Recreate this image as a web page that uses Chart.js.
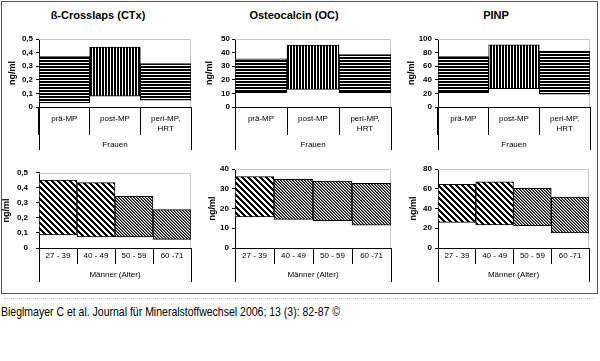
<!DOCTYPE html>
<html>
<head>
<meta charset="utf-8">
<script src="https://cdn.jsdelivr.net/npm/chart.js@4.4.1/dist/chart.umd.min.js"></script>
<style>
  html, body { margin: 0; padding: 0; background: #fff; }
  #fig { position: relative; width: 600px; height: 361px; overflow: hidden; font-family: "Liberation Sans", Arial, sans-serif; }
  #frame { position: absolute; left: 1px; top: 1px; width: 595px; height: 291px; border: 1px solid #555; }
  #ghost { position: absolute; left: 4px; top: 298px; width: 590px; border-top: 1px dotted #bbb; }
  canvas { position: absolute; }
  .ttl { position: absolute; top: 9px; line-height: 13px; font-weight: bold; font-size: 11px; transform: translateX(-50%); white-space: nowrap; }
  #cite { position: absolute; left: 1px; top: 304px; font-size: 13px; line-height: 16px; white-space: nowrap; transform-origin: 0 0; }
</style>
</head>
<body>
<div id="fig">
  <div id="frame"></div>
  <div class="ttl" style="left:98px">ß-Crosslaps (CTx)</div>
  <div class="ttl" style="left:294px">Osteocalcin (OC)</div>
  <div class="ttl" style="left:496px">PINP</div>
  <canvas id="c1" width="200" height="160" style="left:0;top:0"></canvas>
  <canvas id="c2" width="200" height="160" style="left:200px;top:0"></canvas>
  <canvas id="c3" width="200" height="160" style="left:400px;top:0"></canvas>
  <canvas id="c4" width="200" height="130" style="left:0;top:160px"></canvas>
  <canvas id="c5" width="200" height="130" style="left:200px;top:160px"></canvas>
  <canvas id="c6" width="200" height="130" style="left:400px;top:160px"></canvas>
  <div id="ghost"></div>
  <div id="cite">Bieglmayer C et al. Journal für Mineralstoffwechsel 2006; 13 (3): 82-87 ©</div>
</div>
<script>
// categories
const womenLabels = [['prä-MP'], ['post-MP'], ['peri-MP,', 'HRT']];
const menLabels = ['27 - 39', '40 - 49', '50 - 59', '60 -71'];

// ranges (low / high)
const ctxWomenLow = [0.03, 0.08, 0.05];
const ctxWomenHigh = [0.37, 0.44, 0.32];
const ocWomenLow = [10.5, 13, 10.5];
const ocWomenHigh = [35.5, 45.5, 38.5];
const pinpWomenLow = [21, 27, 19];
const pinpWomenHigh = [74, 91.5, 82];

const ctxMenLow = [0.087, 0.074, 0.074, 0.057];
const ctxMenHigh = [0.451, 0.435, 0.344, 0.255];
const ocMenLow = [15.8, 14.5, 13.8, 11.6];
const ocMenHigh = [36.1, 34.8, 33.9, 32.8];
const pinpMenLow = [26, 23.3, 22.6, 15.2];
const pinpMenHigh = [64.5, 67, 60.5, 51.5];

// axis ranges
const ctxMax = 0.5, ctxStep = 0.1;
const ocWomenMax = 50, ocMenMax = 40, ocStep = 10;
const pinpWomenMax = 100, pinpMenMax = 80, pinpStep = 20;

Chart.defaults.font.family = '"Liberation Sans", Arial, sans-serif';
Chart.defaults.color = '#000';

function makePattern(kind) {
  const n = kind === 'wide' ? 6 : 3;
  const c = document.createElement('canvas');
  c.width = n; c.height = n;
  const g = c.getContext('2d');
  g.fillStyle = '#fff';
  g.fillRect(0, 0, n, n);
  for (let y = 0; y < n; y++) {
    for (let x = 0; x < n; x++) {
      let col = null;
      if (kind === 'h' && y % 3 < 2) col = '#000';
      if (kind === 'v' && x % 3 < 2) col = '#000';
      if (kind === 'wide' && ((x - y) % 6 + 6) % 6 < 3) col = '#000';
      if (kind === 'dense') {
        const d = ((x - y) % 3 + 3) % 3;
        if (d === 0) col = '#000';
        else if (d === 1) col = '#777';
      }
      if (col) { g.fillStyle = col; g.fillRect(x, y, 1, 1); }
    }
  }
  return g.createPattern(c, 'repeat');
}

const pats = { h: makePattern('h'), v: makePattern('v'), wide: makePattern('wide'), dense: makePattern('dense') };

// plot frame (light grey top/right) and the long outer category lines
const framePlugin = {
  id: 'frame',
  beforeDatasetsDraw(chart) {
    const a = chart.chartArea, g = chart.ctx;
    g.save();
    g.strokeStyle = '#c8c8c8';
    g.lineWidth = 1;
    g.beginPath();
    g.moveTo(a.left, Math.round(a.top) + 0.5);
    g.lineTo(Math.round(a.right) - 0.5, Math.round(a.top) + 0.5);
    g.lineTo(Math.round(a.right) - 0.5, a.bottom);
    g.stroke();
    g.restore();
  },
  afterDraw(chart, args, opts) {
    const a = chart.chartArea, g = chart.ctx;
    g.save();
    g.strokeStyle = '#000';
    g.lineWidth = 1;
    g.beginPath();
    [a.left, a.right].forEach(x => {
      const px = Math.round(x) + 0.5;
      g.moveTo(px, a.bottom);
      g.lineTo(px, a.bottom + opts.ext);
    });
    g.stroke();
    g.restore();
  }
};

function fmt(v) {
  if (v === 0) return '0';
  return String(Math.round(v * 10) / 10).replace('.', ',');
}

function makePanel(id, labels, lows, highs, kinds, yMax, yStep, xTitle, geo) {
  const ctx = document.getElementById(id).getContext('2d');
  return new Chart(ctx, {
    type: 'bar',
    data: {
      labels: labels,
      datasets: [{
        data: lows.map((l, i) => [l, highs[i]]),
        backgroundColor: kinds.map(k => pats[k]),
        borderColor: '#000',
        borderWidth: 1,
        borderSkipped: false,
        barPercentage: 1,
        categoryPercentage: 1
      }]
    },
    plugins: [framePlugin],
    options: {
      responsive: false,
      animation: false,
      layout: { padding: { left: 0, right: geo.padR, top: geo.padT, bottom: 0 } },
      plugins: {
        legend: { display: false },
        tooltip: { enabled: false },
        frame: { ext: geo.ext }
      },
      scales: {
        x: {
          offset: true,
          afterFit: s => { s.height = geo.xH; },
          grid: { offset: true, drawOnChartArea: false, drawTicks: true, tickLength: geo.tickLen, color: '#000', tickColor: '#000' },
          border: { display: true, color: '#000', width: 1 },
          ticks: { autoSkip: false, maxRotation: 0, padding: geo.labelPad, font: { size: 8, lineHeight: 1.25 }, color: '#000' },
          title: { display: true, text: xTitle, font: { size: 8, lineHeight: 1.2 }, padding: { top: 0, bottom: geo.xTitlePad } }
        },
        y: {
          min: 0,
          max: yMax,
          afterFit: s => { s.width = geo.yW; },
          grid: { drawOnChartArea: false, drawTicks: true, tickLength: 3, color: '#000', tickColor: '#000' },
          border: { display: true, color: '#000', width: 1 },
          ticks: { stepSize: yStep, padding: geo.yPad, font: { size: 8, weight: 'bold' }, callback: v => fmt(v) },
          title: { display: true, text: 'ng/ml', font: { size: 9, weight: 'bold', lineHeight: 1.2 }, padding: { top: geo.yTitlePad, bottom: 0 } }
        }
      }
    }
  });
}

const topGeo = { padT: 39, xH: 53, tickLen: 28, labelPad: -21.7, xTitlePad: 10.2, ext: 43 };
const botGeo = { padT: 9, xH: 42, tickLen: 16, labelPad: -13, xTitlePad: 10.2, ext: 34 };

makePanel('c1', womenLabels, ctxWomenLow, ctxWomenHigh, ['h', 'v', 'h'], ctxMax, ctxStep, 'Frauen',
  Object.assign({ yW: 39, padR: 9, yPad: 3, yTitlePad: 7.6 }, topGeo));
makePanel('c2', womenLabels, ocWomenLow, ocWomenHigh, ['h', 'v', 'h'], ocWomenMax, ocStep, 'Frauen',
  Object.assign({ yW: 35, padR: 9, yPad: 2, yTitlePad: 4.6 }, topGeo));
makePanel('c3', womenLabels, pinpWomenLow, pinpWomenHigh, ['h', 'v', 'h'], pinpWomenMax, pinpStep, 'Frauen',
  Object.assign({ yW: 38, padR: 10, yPad: 3, yTitlePad: 6.6 }, topGeo));

makePanel('c4', menLabels, ctxMenLow, ctxMenHigh, ['wide', 'wide', 'dense', 'dense'], ctxMax, ctxStep, 'Männer (Alter)',
  Object.assign({ yW: 39, padR: 9, yPad: 8, yTitlePad: 1.6 }, botGeo));
makePanel('c5', menLabels, ocMenLow, ocMenHigh, ['wide', 'dense', 'dense', 'dense'], ocMenMax, ocStep, 'Männer (Alter)',
  Object.assign({ yW: 35, padR: 9, yPad: 3, yTitlePad: 7.4 }, botGeo));
makePanel('c6', menLabels, pinpMenLow, pinpMenHigh, ['wide', 'wide', 'dense', 'dense'], pinpMenMax, pinpStep, 'Männer (Alter)',
  Object.assign({ yW: 38, padR: 11, yPad: 3, yTitlePad: 7.9 }, botGeo));

// squeeze the citation to the width it has in the picture
const cite = document.getElementById('cite');
const w = cite.getBoundingClientRect().width;
cite.style.transform = 'scaleX(' + (339 / w) + ')';
</script>
</body>
</html>
